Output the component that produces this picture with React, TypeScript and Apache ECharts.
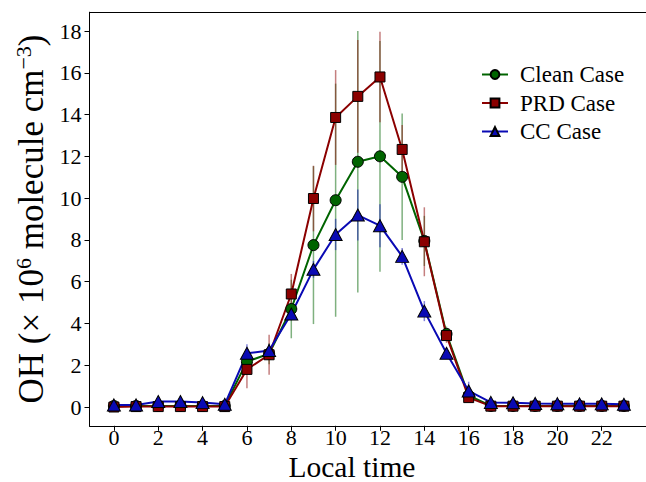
import React, { useEffect, useRef } from "react";
import * as echarts from "echarts";

const hours = [0, 1, 2, 3, 4, 5, 6, 7, 8, 9, 10, 11, 12, 13, 14, 15, 16, 17, 18, 19, 20, 21, 22, 23];
const cleanCase = [0.05, 0.05, 0.05, 0.05, 0.05, 0.05, 2.17, 2.55, 4.69, 7.75, 9.9, 11.74, 12.0, 11.02, 7.95, 3.5, 0.55, 0.05, 0.05, 0.05, 0.05, 0.05, 0.05, 0.05];
const prdCase = [0.0, 0.02, 0.02, 0.02, 0.02, 0.02, 1.8, 2.5, 5.41, 9.98, 13.86, 14.87, 15.8, 12.33, 7.91, 3.42, 0.45, 0.04, 0.04, 0.04, 0.04, 0.04, 0.04, 0.04];
const ccCase = [0.1, 0.1, 0.26, 0.26, 0.21, 0.13, 2.57, 2.7, 4.45, 6.59, 8.26, 9.19, 8.68, 7.21, 4.59, 2.57, 0.77, 0.22, 0.2, 0.17, 0.16, 0.15, 0.15, 0.13];
const cleanErr = [0, 0, 0, 0, 0, 0, 0.4, 0.5, 1.4, 3.78, 5.58, 6.26, 5.52, 3.03, 1.2, 0.35, 0.1, 0, 0, 0, 0, 0, 0, 0];
const prdErr = [0, 0, 0, 0, 0, 0, 0.9, 0.96, 0.96, 1.57, 2.27, 2.7, 2.17, 1.17, 1.65, 0.35, 0.1, 0, 0, 0, 0, 0, 0, 0];
const ccErr = [0, 0, 0, 0, 0, 0, 0.43, 0.3, 0.3, 0.4, 0.75, 1.22, 1.03, 0.4, 0.48, 0.2, 0.44, 0.05, 0, 0, 0, 0, 0, 0];
const xLabelTicks = [0, 2, 4, 6, 8, 10, 12, 14, 16, 18, 20, 22];
const xTickMarks = [0, 2, 4, 6, 8, 10, 12, 14, 16, 18, 20, 22, 24];
const yTicks = [0, 2, 4, 6, 8, 10, 12, 14, 16, 18];

const FONT = "Liberation Serif";
const GREEN = "#006400";
const RED = "#8b0000";
const BLUE = "#0a0ab4";

function errSeries(name: string, vals: number[], errs: number[], color: string) {
  return {
    type: "custom",
    name,
    z: 1,
    silent: true,
    data: hours.map((h, i) => [h, vals[i], errs[i]]),
    renderItem: (params: any, api: any) => {
      const x = api.value(0);
      const y = api.value(1);
      const e = api.value(2);
      if (!e) return null;
      const top = api.coord([x, y + e]);
      const bot = api.coord([x, y - e]);
      return {
        type: "line",
        shape: { x1: top[0], y1: top[1], x2: bot[0], y2: bot[1] },
        style: { stroke: color, lineWidth: 1.5, opacity: 0.5 },
      };
    },
  };
}

function lineSeries(name: string, vals: number[], color: string, symbol: string, size: any) {
  return {
    type: "line",
    name,
    z: 3,
    data: hours.map((h, i) => [h, vals[i]]),
    symbol,
    symbolSize: size,
    showAllSymbol: true,
    lineStyle: { color, width: 2 },
    itemStyle: { color, borderColor: "#000", borderWidth: 1 },
  };
}

export default function App() {
  const ref = useRef<HTMLDivElement>(null);
  useEffect(() => {
    if (!ref.current) return;
    const chart = echarts.init(ref.current, null, { renderer: "svg" });
    chart.setOption({
      animation: false,
      backgroundColor: "#fff",
      textStyle: { fontFamily: FONT },
      grid: { left: 89.5, right: -3.4, top: 12.2, bottom: 56.2, outerBoundsMode: "none" },
      legend: {
        orient: "vertical",
        left: 476,
        top: 58,
        itemWidth: 26,
        itemHeight: 11,
        itemGap: 5.5,
        data: ["Clean Case", "PRD Case", "CC Case"],
        textStyle: { fontFamily: FONT, fontSize: 23, color: "#000", padding: [0, 0, 0, 7] },
      },
      xAxis: [
        {
          type: "value",
          min: -1.1,
          max: 24.15,
          name: "Local time",
          nameLocation: "middle",
          nameGap: 26.7,
          nameMoveOverlap: false,
          nameTextStyle: { fontFamily: FONT, fontSize: 29.5, lineHeight: 29, color: "#000", padding: [0, 35, 0, 0] },
          axisLine: { show: true, onZero: false, lineStyle: { color: "#000", width: 1 } },
          axisTick: { show: true, inside: false, length: 5, customValues: xTickMarks, lineStyle: { color: "#000" } },
          axisLabel: { customValues: xLabelTicks, margin: 1, fontFamily: FONT, fontSize: 22, lineHeight: 22, color: "#000" },
          splitLine: { show: false },
        },
        {
          type: "value",
          position: "top",
          min: -1.1,
          max: 24.15,
          axisLine: { show: true, onZero: false, lineStyle: { color: "#000", width: 1 } },
          axisTick: { show: false },
          axisLabel: { show: false },
          splitLine: { show: false },
        },
      ],
      yAxis: {
        type: "value",
        min: -0.9,
        max: 18.9,
        name: "{n|OH (× 10}{s|6}{n| molecule cm}{s|−3}{n|)}",
        nameLocation: "middle",
        nameGap: 41,
        nameMoveOverlap: false,
        nameTextStyle: {
          fontFamily: FONT,
          color: "#000",
          rich: {
            n: { fontFamily: FONT, fontSize: 35, color: "#000", lineHeight: 36, verticalAlign: "bottom" },
            s: { fontFamily: FONT, fontSize: 22, color: "#000", lineHeight: 36, verticalAlign: "top" },
          },
        },
        axisLine: { show: true, onZero: false, lineStyle: { color: "#000", width: 1 } },
        axisTick: { show: true, inside: false, length: 5, customValues: yTicks, lineStyle: { color: "#000" } },
        axisLabel: { customValues: yTicks, margin: 8, fontFamily: FONT, fontSize: 22, color: "#000" },
        splitLine: { show: false },
      },
      series: [
        errSeries("Clean err", cleanCase, cleanErr, GREEN),
        errSeries("PRD err", prdCase, prdErr, RED),
        errSeries("CC err", ccCase, ccErr, BLUE),
        lineSeries("Clean Case", cleanCase, GREEN, "circle", 11),
        lineSeries("PRD Case", prdCase, RED, "rect", 10),
        lineSeries("CC Case", ccCase, BLUE, "triangle", [13, 12]),
      ],
    });
    return () => chart.dispose();
  }, []);
  return <div ref={ref} style={{ position: "fixed", left: 0, top: 0, width: 646, height: 482 }} />;
}
